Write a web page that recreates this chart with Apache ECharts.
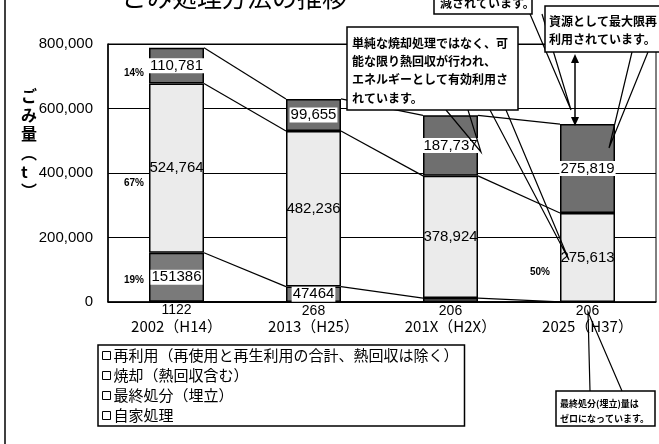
<!DOCTYPE html>
<html>
<head>
<meta charset="utf-8">
<script src="https://cdn.jsdelivr.net/npm/echarts@6/dist/echarts.min.js"></script>
<style>
  html, body { margin: 0; padding: 0; background: #fff; }
  #main { width: 659px; height: 444px; }
</style>
</head>
<body>
<div id="main"></div>
<script>
// ごみ処理方法の推移 (t)
const years = ['2002（H14）', '2013（H25）', '201X（H2X）', '2025（H37）'];
const reuse = [110781, 99655, 187737, 275819];
const incineration = [524764, 482236, 378924, 275613];
const landfill = [151386, 47464, 12000, 0];
const selfTreat = [1122, 268, 206, 206];
const names = ['再利用（再使用と再生利用の合計、熱回収は除く）', '焼却（熱回収含む）', '最終処分（埋立）', '自家処理'];

const JP = '"Noto Sans CJK JP", sans-serif';
const NUM = '"Liberation Sans", Arial, sans-serif';
const BAR_W = 55;

// stack order bottom -> top
const stackVals = [selfTreat, landfill, incineration, reuse];
const cum = [];
let run = years.map(() => 0);
stackVals.forEach(arr => {
  run = run.map((v, i) => v + arr[i]);
  cum.push(run.slice());
});
// series lines (right edge of one bar to left edge of next)
const linkData = [];
for (let i = 0; i < years.length - 1; i++) {
  cum.forEach(level => linkData.push([i, level[i], level[i + 1]]));
}

var myChart = echarts.init(document.getElementById('main'));

const barBase = {
  type: 'bar',
  stack: 'total',
  barWidth: BAR_W,
  itemStyle: { borderColor: '#000', borderWidth: 1.5 }
};

var option = {
  animation: false,
  grid: { left: 108, right: 3, top: 44, bottom: 142, show: true, borderColor: '#000', borderWidth: 1 },
  legend: {
    orient: 'vertical',
    left: 98, top: 345,
    padding: [3, 6, 3, 4],
    itemGap: 5,
    itemWidth: 8, itemHeight: 8,
    icon: 'rect',
    borderColor: '#000', borderWidth: 1.5,
    backgroundColor: '#fff',
    textStyle: { fontFamily: JP, fontSize: 15, color: '#000', padding: [0, 0, 0, -2] },
    data: names.map(n => ({ name: n, itemStyle: { color: '#fff', borderColor: '#000', borderWidth: 1 } }))
  },
  xAxis: {
    type: 'category',
    data: years,
    axisTick: { show: false },
    axisLine: { lineStyle: { color: '#000', width: 1.5 } },
    axisLabel: { color: '#000', fontFamily: JP, fontSize: 15, margin: 17 }
  },
  yAxis: {
    type: 'value',
    min: 0, max: 800000, interval: 200000,
    axisLine: { show: true, lineStyle: { color: '#000', width: 1.5 } },
    axisTick: { show: false },
    splitLine: { lineStyle: { color: '#000', width: 1 } },
    axisLabel: {
      color: '#000', fontFamily: NUM, fontSize: 15, margin: 15,
      formatter: v => v.toLocaleString('en-US')
    }
  },
  series: [
    Object.assign({}, barBase, {
      name: names[3], data: selfTreat,
      itemStyle: { color: '#fff', borderColor: '#000', borderWidth: 1.5 },
      label: { show: true, position: 'bottom', distance: 1, color: '#000', fontFamily: NUM, fontSize: 14 }
    }),
    Object.assign({}, barBase, {
      name: names[2], data: landfill,
      itemStyle: { color: '#7a7a7a', borderColor: '#000', borderWidth: 1.5 },
      label: {
        show: true, position: 'inside', color: '#000', fontFamily: NUM, fontSize: 15,
        backgroundColor: '#fff', padding: [0, 1],
        formatter: p => (p.value >= 20000 ? String(p.value) : '')
      }
    }),
    Object.assign({}, barBase, {
      name: names[1], data: incineration,
      itemStyle: { color: '#ebebeb', borderColor: '#000', borderWidth: 1.5 },
      label: {
        show: true, position: 'inside', color: '#000', fontFamily: NUM, fontSize: 15,
        formatter: p => p.value.toLocaleString('en-US')
      }
    }),
    Object.assign({}, barBase, {
      name: names[0], data: reuse,
      itemStyle: { color: '#6f6f6f', borderColor: '#000', borderWidth: 1.5 },
      label: {
        show: true, position: 'inside', color: '#000', fontFamily: NUM, fontSize: 15,
        backgroundColor: '#fff', padding: [0, 1],
        formatter: p => p.value.toLocaleString('en-US')
      }
    }),
    {
      type: 'custom',
      name: 'links',
      data: linkData,
      encode: { x: 0, y: 1 },
      silent: true,
      z: 3,
      renderItem: function (params, api) {
        const a = api.coord([api.value(0), api.value(1)]);
        const b = api.coord([api.value(0) + 1, api.value(2)]);
        return {
          type: 'line',
          shape: { x1: a[0] + BAR_W / 2, y1: a[1], x2: b[0] - BAR_W / 2, y2: b[1] },
          style: { stroke: '#000', lineWidth: 1.2 }
        };
      }
    }
  ],
  graphic: { elements: [
    // page edge
    { type: 'line', z: 100, shape: { x1: 5, y1: 0, x2: 5, y2: 444 }, style: { stroke: '#000', lineWidth: 1.5 } },
    // title (cut off at the top)
    { type: 'text', z: 100, x: 122, y: -15, style: { text: 'ごみ処理方法の推移', font: '25px ' + JP, fill: '#000' } },
    // y axis name
    { type: 'text', z: 100, x: 21, y: 86, style: { text: 'ご\nみ\n量\n︵\nt\n︶', font: 'bold 16px ' + JP, lineHeight: 19, fill: '#000', align: 'left' } },
    // shares
    { type: 'text', z: 100, x: 124, y: 68, style: { text: '14%', font: 'bold 10px ' + NUM, fill: '#000' } },
    { type: 'text', z: 100, x: 124, y: 178, style: { text: '67%', font: 'bold 10px ' + NUM, fill: '#000' } },
    { type: 'text', z: 100, x: 124, y: 275, style: { text: '19%', font: 'bold 10px ' + NUM, fill: '#000' } },
    { type: 'text', z: 100, x: 530, y: 267, style: { text: '50%', font: 'bold 10px ' + NUM, fill: '#000' } },
    // top box
    { type: 'polyline', z: 101, shape: { points: [[530, 14], [571, 110], [542, 14]] }, style: { stroke: '#000', lineWidth: 1.2, fill: null } },
    { type: 'rect', z: 102, shape: { x: 434, y: -30, width: 98, height: 44 }, style: { fill: '#fff', stroke: '#000', lineWidth: 1.5 } },
    { type: 'text', z: 103, x: 440, y: -3, style: { text: '減されています。', font: 'bold 12px ' + JP, fill: '#000' } },
    // resource box
    { type: 'polyline', z: 101, shape: { points: [[632, 52], [609, 148], [648, 52]] }, style: { stroke: '#000', lineWidth: 1.2, fill: null } },
    { type: 'rect', z: 102, shape: { x: 545, y: 6, width: 120, height: 46 }, style: { fill: '#fff', stroke: '#000', lineWidth: 1.5 } },
    { type: 'text', z: 103, x: 549, y: 12, style: { text: '資源として最大限再\n利用されています。', font: 'bold 12px ' + JP, lineHeight: 18, fill: '#000' } },
    // double arrow
    { type: 'line', z: 101, shape: { x1: 575, y1: 58, x2: 575, y2: 122 }, style: { stroke: '#000', lineWidth: 1.5 } },
    { type: 'polygon', z: 101, shape: { points: [[575, 54], [571, 63], [579, 63]] }, style: { fill: '#000' } },
    { type: 'polygon', z: 101, shape: { points: [[575, 126], [571, 117], [579, 117]] }, style: { fill: '#000' } },
    // incineration box
    { type: 'polyline', z: 101, shape: { points: [[446, 110], [481, 152], [468, 110]] }, style: { stroke: '#000', lineWidth: 1.2, fill: null } },
    { type: 'polyline', z: 101, shape: { points: [[490, 110], [569, 260], [506, 110]] }, style: { stroke: '#000', lineWidth: 1.2, fill: null } },
    { type: 'rect', z: 102, shape: { x: 347, y: 27, width: 171, height: 83 }, style: { fill: '#fff', stroke: '#000', lineWidth: 1.5 } },
    { type: 'text', z: 103, x: 352, y: 34, style: { text: '単純な焼却処理ではなく、可\n能な限り熱回収が行われ、\nエネルギーとして有効利用さ\nれています。', font: 'bold 12px ' + JP, lineHeight: 18.3, fill: '#000' } },
    // landfill zero box
    { type: 'polyline', z: 101, shape: { points: [[590, 391], [588, 312], [622, 391]] }, style: { stroke: '#000', lineWidth: 1.2, fill: null } },
    { type: 'rect', z: 102, shape: { x: 556, y: 391, width: 99, height: 35 }, style: { fill: '#fff', stroke: '#000', lineWidth: 1.5 } },
    { type: 'text', z: 103, x: 560, y: 396, style: { text: '最終処分(埋立)量は\nゼロになっています。', font: 'bold 9px ' + JP, lineHeight: 15, fill: '#000' } }
  ] }
};

myChart.setOption(option);
</script>
</body>
</html>
